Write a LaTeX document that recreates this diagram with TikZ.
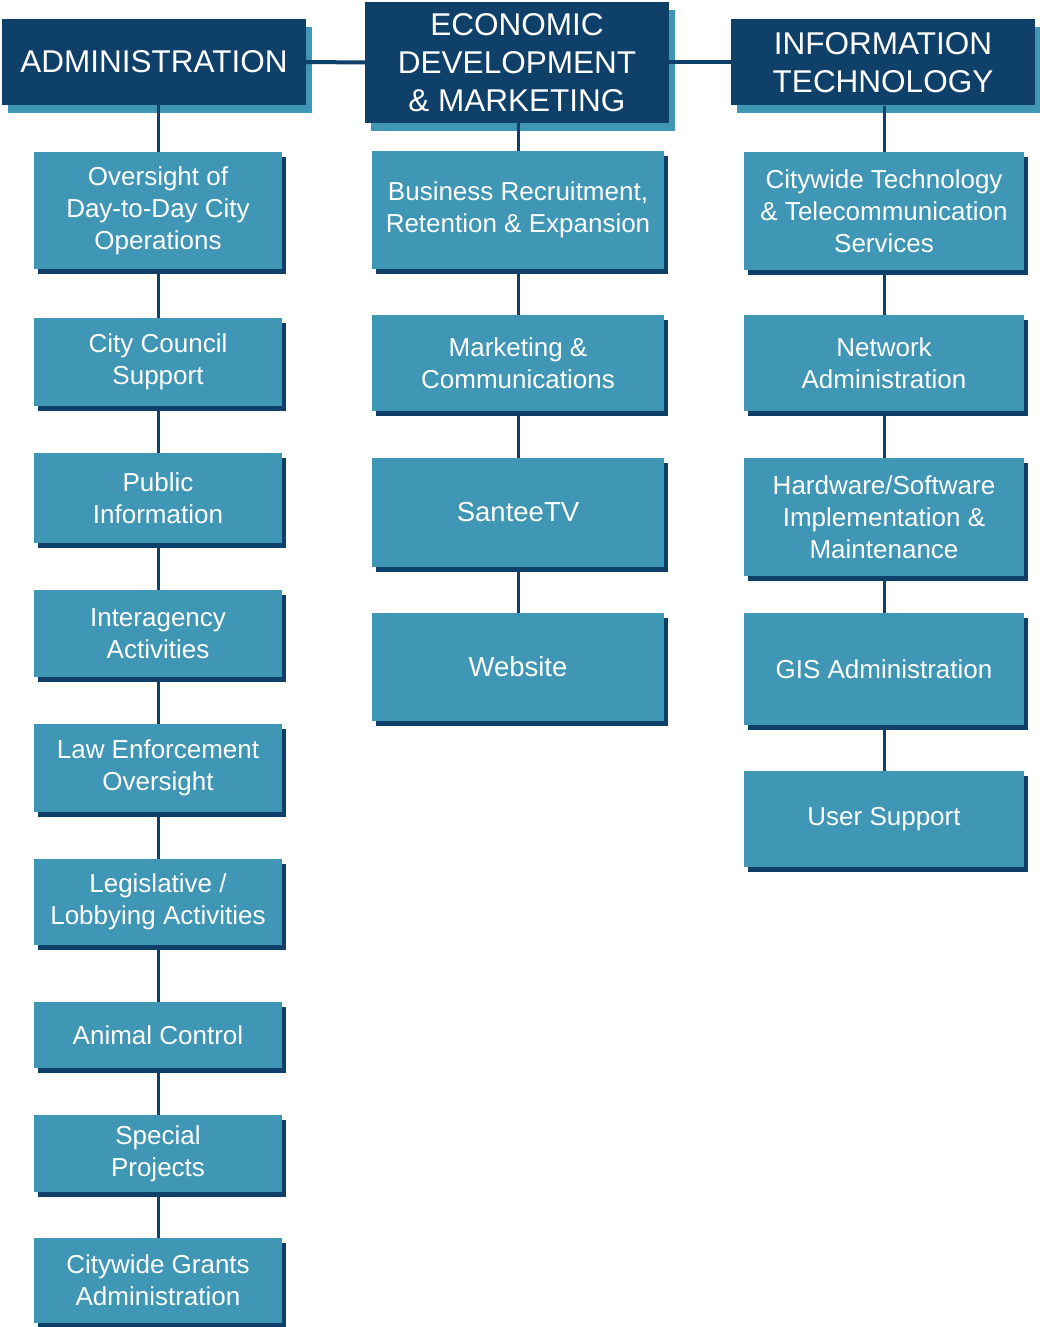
\documentclass[tikz,border=0pt]{standalone}
\usepackage{fontspec}
\setmainfont{Liberation Sans}
\usepackage{tikz}
\usetikzlibrary{positioning}
\usetikzlibrary{shadows}
\definecolor{headColor}{RGB}{14,64,106}
\definecolor{unitColor}{RGB}{64,150,181}

\begin{document}
\begin{tikzpicture}[x=1pt,y=-1pt]

            \tikzstyle{headBox} = [fill=headColor, text=white, align=center, inner sep=0pt,
                minimum width=304pt, font=\fontsize{31.5}{38}\selectfont,
                general shadow={fill=unitColor, shadow xshift=6pt, shadow yshift=-8pt}];
            \tikzstyle{unitBox} = [fill=unitColor, text=white, align=center, inner sep=0pt,
                font=\fontsize{26}{32}\selectfont,
                general shadow={fill=headColor, shadow xshift=4pt, shadow yshift=-5pt}];
            \tikzstyle{leftBox} = [unitBox, minimum width=248pt];
            \tikzstyle{midBox} = [unitBox, minimum width=292pt];
            \tikzstyle{rightBox} = [unitBox, minimum width=280pt];
            \tikzstyle{orgEdge} = [headColor, line width=3pt];
            \tikzstyle{headEdge} = [headColor, line width=4pt];

            \useasboundingbox (0,0) rectangle (1040,1327);

            % department heads
            \node[headBox, minimum height=86pt] (admin) at (154,62) {ADMINISTRATION};
            \node[headBox, minimum height=121pt] (econ) at (517,62.5) {ECONOMIC\\DEVELOPMENT\\\& MARKETING};
            \node[headBox, minimum height=86pt] (it) at (883,62.5) {INFORMATION\\TECHNOLOGY};

            % administration
            \node[leftBox, minimum height=117pt] (oversight) at (158,210.5) {Oversight of\\Day-to-Day City\\Operations};
            \node[leftBox, minimum height=88pt] (council) at (158,362) {City Council\\Support};
            \node[leftBox, minimum height=90pt] (publicInfo) at (158,498) {Public\\Information};
            \node[leftBox, minimum height=87pt] (interagency) at (158,633.5) {Interagency\\Activities};
            \node[leftBox, minimum height=88pt] (lawEnf) at (158,768) {Law Enforcement\\Oversight};
            \node[leftBox, minimum height=86pt] (legislative) at (158,902) {Legislative /\\Lobbying Activities};
            \node[leftBox, minimum height=66pt] (animal) at (158,1035) {Animal Control};
            \node[leftBox, minimum height=77pt] (special) at (158,1153.5) {Special\\Projects};
            \node[leftBox, minimum height=85pt] (grants) at (158,1280.5) {Citywide Grants\\Administration};

            % economic development
            \node[midBox, minimum height=118pt] (business) at (518,210) {Business Recruitment,\\Retention \& Expansion};
            \node[midBox, minimum height=96pt] (marketing) at (518,363) {Marketing \&\\Communications};
            \node[midBox, minimum height=109pt, font=\fontsize{27.5}{32}\selectfont] (santee) at (518,512.5) {SanteeTV};
            \node[midBox, minimum height=108pt, font=\fontsize{27.5}{32}\selectfont] (website) at (518,667) {Website};

            % information technology
            \node[rightBox, minimum height=118pt] (telecom) at (884,211) {Citywide Technology\\\& Telecommunication\\Services};
            \node[rightBox, minimum height=96pt] (network) at (884,363) {Network\\Administration};
            \node[rightBox, minimum height=118pt] (hardware) at (884,517) {Hardware/Software\\Implementation \&\\Maintenance};
            \node[rightBox, minimum height=112pt] (gis) at (884,669) {GIS Administration};
            \node[rightBox, minimum height=96pt] (support) at (884,819) {User Support};

            \draw[headEdge] (admin) -- (econ);
            \draw[headEdge] (econ) -- (it);

            \draw[orgEdge] (oversight.north |- admin.south) -- (oversight);
            \draw[orgEdge] (oversight) -- (council);
            \draw[orgEdge] (council) -- (publicInfo);
            \draw[orgEdge] (publicInfo) -- (interagency);
            \draw[orgEdge] (interagency) -- (lawEnf);
            \draw[orgEdge] (lawEnf) -- (legislative);
            \draw[orgEdge] (legislative) -- (animal);
            \draw[orgEdge] (animal) -- (special);
            \draw[orgEdge] (special) -- (grants);

            \draw[orgEdge] (business.north |- econ.south) -- (business);
            \draw[orgEdge] (business) -- (marketing);
            \draw[orgEdge] (marketing) -- (santee);
            \draw[orgEdge] (santee) -- (website);

            \draw[orgEdge] (telecom.north |- it.south) -- (telecom);
            \draw[orgEdge] (telecom) -- (network);
            \draw[orgEdge] (network) -- (hardware);
            \draw[orgEdge] (hardware) -- (gis);
            \draw[orgEdge] (gis) -- (support);
\end{tikzpicture}
\end{document}
